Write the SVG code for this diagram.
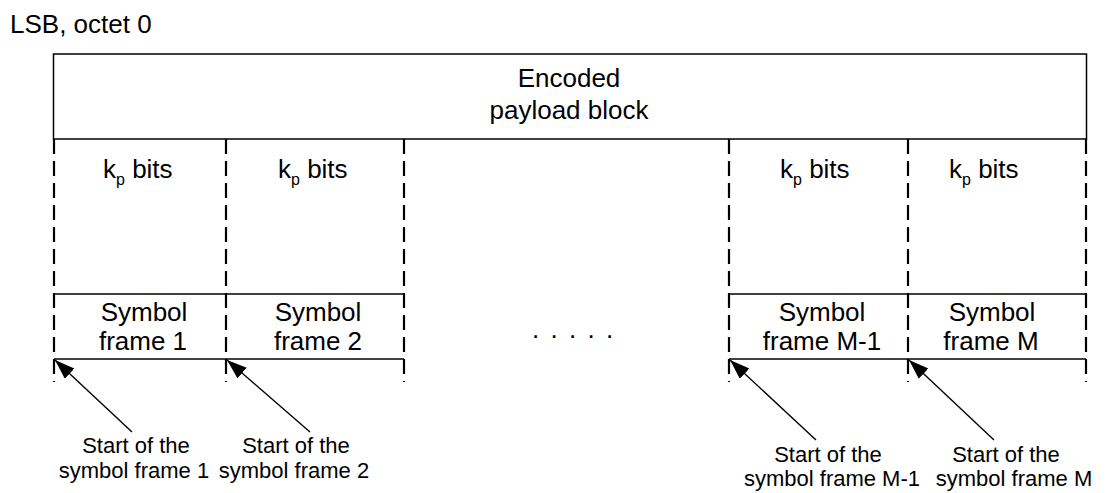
<svg xmlns="http://www.w3.org/2000/svg" width="1107" height="493" viewBox="0 0 1107 493">
<style>
text{font-family:"Liberation Sans",Arial,sans-serif;fill:#000}
.m{font-size:26px}
.s{font-size:22px}
.c{text-anchor:middle}
.box{fill:none;stroke:#000;stroke-width:1.5}
.hl{stroke:#000;stroke-width:1.5}
.dash{stroke:#000;stroke-width:2.2;stroke-dasharray:15 7}
.arr{stroke:#000;stroke-width:1.4;fill:none;marker-end:url(#ah)}
</style>
<defs>
<marker id="ah" markerUnits="userSpaceOnUse" markerWidth="22" markerHeight="16" refX="20" refY="7" orient="auto">
<path d="M0,0 L20,7 L0,14 Z" fill="#000"/>
</marker>
</defs>
<rect width="1107" height="493" fill="#fff"/>
<text id="lsb" class="m" x="10" y="33">LSB, octet 0</text>
<g id="payload">
<rect class="box" x="53.5" y="54" width="1033" height="85"/>
<text class="m c" x="569" y="87">Encoded</text>
<text class="m c" x="569" y="119">payload block</text>
</g>
<g id="dividers">
<line class="dash" x1="54" y1="139" x2="54" y2="382"/>
<line class="dash" x1="226" y1="139" x2="226" y2="382"/>
<line class="dash" x1="404" y1="139" x2="404" y2="382"/>
<line class="dash" x1="729" y1="139" x2="729" y2="382"/>
<line class="dash" x1="908" y1="139" x2="908" y2="382"/>
<line class="dash" x1="1086" y1="139" x2="1086" y2="382"/>
</g>
<g id="kp1"><text class="m" x="103" y="178">k<tspan font-size="16" dy="7">p</tspan><tspan dy="-7"> bits</tspan></text></g>
<g id="kp2"><text class="m" x="278" y="178">k<tspan font-size="16" dy="7">p</tspan><tspan dy="-7"> bits</tspan></text></g>
<g id="kp3"><text class="m" x="780" y="178">k<tspan font-size="16" dy="7">p</tspan><tspan dy="-7"> bits</tspan></text></g>
<g id="kp4"><text class="m" x="949" y="178">k<tspan font-size="16" dy="7">p</tspan><tspan dy="-7"> bits</tspan></text></g>
<g id="sf1">
<line class="hl" x1="54" y1="294" x2="226" y2="294"/><line class="hl" x1="54" y1="359" x2="226" y2="359"/>
<text class="m c" x="144" y="321">Symbol</text><text class="m c" x="143" y="350">frame 1</text>
</g>
<g id="sf2">
<line class="hl" x1="226" y1="294" x2="404" y2="294"/><line class="hl" x1="226" y1="359" x2="404" y2="359"/>
<text class="m c" x="318" y="321">Symbol</text><text class="m c" x="318" y="350">frame 2</text>
</g>
<g id="sfM1">
<line class="hl" x1="729" y1="294" x2="908" y2="294"/><line class="hl" x1="729" y1="359" x2="908" y2="359"/>
<text class="m c" x="822" y="321">Symbol</text><text class="m c" x="822" y="350">frame M-1</text>
</g>
<g id="sfM">
<line class="hl" x1="908" y1="294" x2="1086" y2="294"/><line class="hl" x1="908" y1="359" x2="1086" y2="359"/>
<text class="m c" x="992" y="321">Symbol</text><text class="m c" x="991" y="350">frame M</text>
</g>
<text id="ellipsis" class="m" x="532" y="338" letter-spacing="11.3">.....</text>
<g id="connectors">
<line class="arr" x1="132" y1="432" x2="55" y2="360"/>
<line class="arr" x1="310" y1="432" x2="227" y2="360"/>
<line class="arr" x1="816" y1="440" x2="730" y2="360"/>
<line class="arr" x1="994" y1="440" x2="909" y2="360"/>
</g>
<g id="lab1"><text class="s c" x="136" y="453">Start of the</text><text class="s c" x="134" y="478">symbol frame 1</text></g>
<g id="lab2"><text class="s c" x="296" y="453">Start of the</text><text class="s c" x="294" y="478">symbol frame 2</text></g>
<g id="lab3"><text class="s c" x="828" y="462">Start of the</text><text class="s c" x="832" y="486">symbol frame M-1</text></g>
<g id="lab4"><text class="s c" x="1006" y="462">Start of the</text><text class="s c" x="1014" y="486">symbol frame M</text></g>
</svg>
